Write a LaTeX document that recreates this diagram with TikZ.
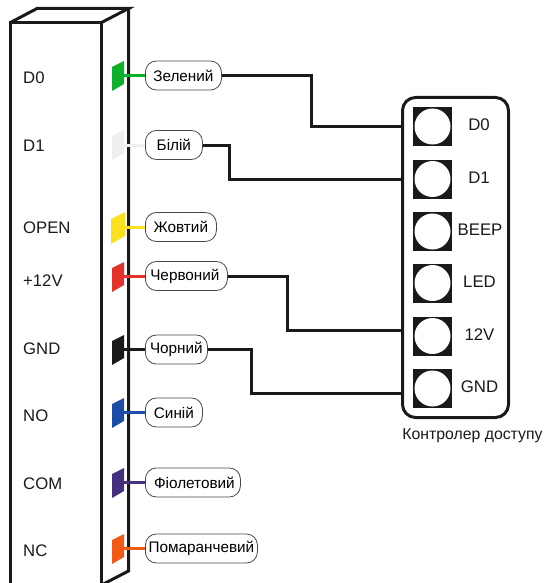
\documentclass[tikz,border=0pt]{standalone}
\usepackage{fontspec}
\setmainfont{Liberation Sans}
\definecolor{ink}{HTML}{1A1A1A}
\definecolor{cgreen}{HTML}{0DB02B}
\definecolor{cwhite}{HTML}{F0EFEE}
\definecolor{cyellow}{HTML}{FAE01E}
\definecolor{cred}{HTML}{E4312A}
\definecolor{cblue}{HTML}{1E4DA8}
\definecolor{cviolet}{HTML}{44307F}
\definecolor{corange}{HTML}{F05A14}
\tikzset{
 body/.style={draw=ink,line width=3pt,line join=miter},
 pin/.style={anchor=west,font=\fontsize{16.7}{18}\selectfont,text=ink,inner sep=0pt},
 pill/.style={draw=ink!80,line width=0.8pt,fill=white,rounded corners=11pt,minimum height=29pt,inner sep=0pt,font=\fontsize{15.3}{17}\selectfont,text=black},
 wire/.style={draw=ink,line width=3pt},
 lead/.style={line width=3pt},
 sock/.style={fill=ink,minimum size=39pt,inner sep=0pt},
 hole/.style={circle,fill=white,minimum size=36pt,inner sep=0pt},
 term/.style={font=\fontsize{16.8}{18}\selectfont,text=ink,inner sep=0pt},
}
\newcommand{\tagshape}[2]{%
 \fill[#2] (112,#1-9) -- (124,#1-15) -- (124,#1+8) -- (112,#1+15) -- cycle;}
\begin{document}
\begin{tikzpicture}[x=1pt,y=-1pt]
\useasboundingbox (0,0) rectangle (544,583);
\clip (0,0) rectangle (544,583);
% housing
\draw[body] (10.5,22.5) rectangle (101.5,600);
\draw[body] (10.5,22.5) -- (37,8.5) -- (128.5,8.5) -- (101.5,22.5);
\draw[body] (128.5,8.5) -- (128.5,571) -- (101.5,585);
% pin names
\node[pin] (pD0) at (23,77.5) {D0};
\node[pin] (pD1) at (23,145.5) {D1};
\node[pin] (pOP) at (23,227.5) {OPEN};
\node[pin] (pV) at (23,281) {+12V};
\node[pin] (pG) at (23,348.5) {GND};
\node[pin] (pNO) at (23,416) {NO};
\node[pin] (pCO) at (23,483.5) {COM};
\node[pin] (pNC) at (23,551) {NC};
% tags
\tagshape{76}{cgreen}
\tagshape{145}{cwhite}
\fill[cyellow] (111,219) -- (125,212) -- (125,236) -- (111,244) -- cycle;
\tagshape{277}{cred}
\tagshape{350}{ink}
\tagshape{413}{cblue}
\tagshape{483}{cviolet}
\tagshape{549}{corange}
\coordinate (t1) at (124,75.5);
\coordinate (t2) at (124,145.5);
\coordinate (t3) at (124,227.5);
\coordinate (t4) at (124,276.5);
\coordinate (t5) at (124,349.5);
\coordinate (t6) at (124,412.5);
\coordinate (t7) at (124,482.5);
\coordinate (t8) at (124,548.5);
% leads and pills
\node[pill,anchor=west,minimum width=76pt] (c1) at (145,75.5) {Зелений};
\node[pill,anchor=west,minimum width=57pt] (c2) at (145,145) {Білій};
\node[pill,anchor=west,minimum width=71pt] (c3) at (145,227) {Жовтий};
\node[pill,anchor=west,minimum width=82pt] (c4) at (145,276) {\hspace*{-3pt}Червоний};
\node[pill,anchor=west,minimum width=62pt] (c5) at (145,349.5) {Чорний};
\node[pill,anchor=west,minimum width=57pt] (c6) at (145,412.5) {Синій};
\node[pill,anchor=west,minimum width=95pt] (c7) at (145,482.5) {\hspace*{3pt}Фіолетовий};
\node[pill,anchor=west,minimum width=112pt] (c8) at (145,548.5) {Помаранчевий};
\draw[lead,cgreen] (t1) -- (t1 -| c1.west);
\draw[lead,cwhite] (t2) -- (t2 -| c2.west);
\draw[lead,cyellow] (t3) -- (t3 -| c3.west);
\draw[lead,cred] (t4) -- (t4 -| c4.west);
\draw[lead,ink] (t5) -- (t5 -| c5.west);
\draw[lead,cblue] (t6) -- (t6 -| c6.west);
\draw[lead,cviolet] (t7) -- (t7 -| c7.west);
\draw[lead,corange] (t8) -- (t8 -| c8.west);
% controller
\draw[draw=ink,line width=3pt,fill=white,rounded corners=13pt] (402.5,97.5) rectangle (508.5,417.5);
\foreach \n/\y in {1/126.5,2/179,3/231.5,4/283,5/336,6/388.5}{
 \node[sock] (s\n) at (432.5,\y) {};
 \node[hole] (h\n) at (432.5,\y) {};
}
\node[term] (l1) at (479,125) {D0};
\node[term] (l2) at (479,177.5) {D1};
\node[term] (l3) at (480,230) {BEEP};
\node[term] (l4) at (479.5,282) {LED};
\node[term] (l5) at (479.5,335) {12V};
\node[term] (l6) at (479.5,387) {GND};
\node[inner sep=0pt,font=\fontsize{15.8}{17}\selectfont,text=ink] (title) at (472.5,436) {Контролер доступу};
% wires
\coordinate (w1) at (311.5,75.5);
\coordinate (w2) at (229.5,145.5);
\coordinate (w4) at (287.5,276.5);
\coordinate (w5) at (251.5,349.5);
\coordinate (e1) at (402,126.5);
\coordinate (e2) at (402,179.5);
\coordinate (e5) at (402,330.5);
\coordinate (e6) at (402,393.5);
\draw[wire] (w1 -| c1.east) -- (w1) |- (e1);
\draw[wire] (w2 -| c2.east) -- (w2) |- (e2);
\draw[wire] (w4 -| c4.east) -- (w4) |- (e5);
\draw[wire] (w5 -| c5.east) -- (w5) |- (e6);
\end{tikzpicture}
\end{document}
